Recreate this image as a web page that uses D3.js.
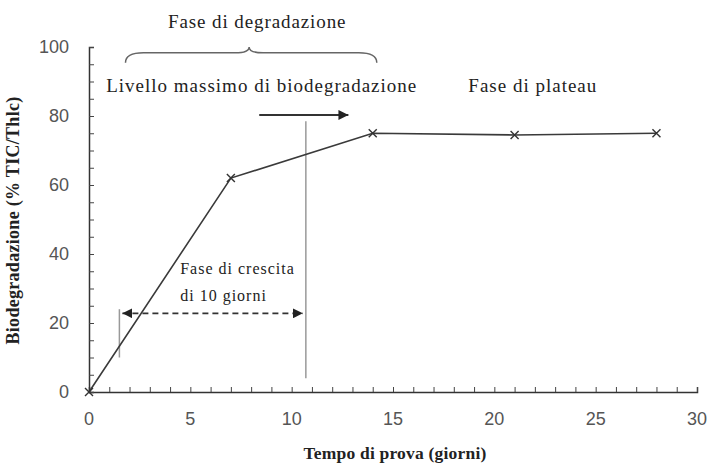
<!DOCTYPE html>
<html>
<head>
<meta charset="utf-8">
<script src="https://cdn.jsdelivr.net/npm/d3@7"></script>
<style>
    body { margin: 0; background: #fff; }
    svg { display: block; }
</style>
</head>
<body>
<div class="graph-goes-here"></div>
<script>
// data
var days = [0, 7, 14, 21, 28];
var biodeg = [0, 62, 75, 74.5, 75];
var xTicks = [0, 5, 10, 15, 20, 25, 30];
var yTicks = [0, 20, 40, 60, 80, 100];

// annotation anchors (data units)
var leftMarkX = 1.5, leftMarkY = [10, 24];
var rightMarkX = 10.7, rightMarkY = [4, 78.5];
var growthArrowY = 22.8;
var plateauArrowX = [8.4, 12.8], plateauArrowY = 80.3;
var braceX = [1.8, 14.2], braceMid = 7.9;

var margin = { top: 47, right: 13, bottom: 78, left: 89 },
    width = 710 - margin.left - margin.right,
    height = 470 - margin.top - margin.bottom;

var svg = d3.select(".graph-goes-here")
    .append("svg")
    .attr("width", 710)
    .attr("height", 470)
    .append("g")
    .attr("transform", "translate(" + margin.left + "," + margin.top + ")");

var x = d3.scaleLinear().domain([0, 30]).range([0, width]);
var y = d3.scaleLinear().domain([0, 100]).range([height, 0]);

var defs = svg.append("defs");
defs.append("marker")
    .attr("id", "head")
    .attr("viewBox", "0 0 10 10")
    .attr("refX", 10).attr("refY", 5)
    .attr("markerWidth", 10).attr("markerHeight", 10)
    .attr("markerUnits", "userSpaceOnUse")
    .attr("orient", "auto-start-reverse")
    .append("path")
    .attr("d", "M0,0 L10,5 L0,10 Z")
    .attr("fill", "#222");

// axes: ticks point inside the plot
var xAxis = svg.append("g")
    .attr("transform", "translate(0," + height + ")")
    .call(d3.axisTop(x).ticks(30).tickSize(5).tickFormat(""));
xAxis.select(".domain").attr("stroke", "#333").attr("stroke-width", 1.5);
xAxis.selectAll(".tick line").attr("stroke", "#444");

var yAxis = svg.append("g")
    .call(d3.axisRight(y).ticks(20).tickSize(5).tickFormat(""));
yAxis.select(".domain").attr("stroke", "#333").attr("stroke-width", 1.5);
yAxis.selectAll(".tick line").attr("stroke", "#444");

svg.append("g").selectAll("text")
    .data(xTicks).join("text")
    .attr("x", d => x(d))
    .attr("y", height + 33)
    .attr("text-anchor", "middle")
    .attr("font-family", "Liberation Sans, Arial, sans-serif")
    .attr("font-size", 18)
    .attr("fill", "#555")
    .text(d => d);

svg.append("g").selectAll("text")
    .data(yTicks).join("text")
    .attr("x", -20)
    .attr("y", d => y(d) + 6)
    .attr("text-anchor", "end")
    .attr("font-family", "Liberation Sans, Arial, sans-serif")
    .attr("font-size", 18)
    .attr("fill", "#555")
    .text(d => d);

// axis titles
var serif = "Liberation Serif, Times New Roman, serif";
svg.append("text")
    .attr("x", width / 2 + 2)
    .attr("y", height + 67)
    .attr("text-anchor", "middle")
    .attr("font-family", serif)
    .attr("font-weight", "bold")
    .attr("font-size", 17.5)
    .attr("letter-spacing", 0.2)
    .attr("fill", "#222")
    .text("Tempo di prova (giorni)");

svg.append("text")
    .attr("transform", "translate(-70," + (height / 2 + 1) + ") rotate(-90)")
    .attr("text-anchor", "middle")
    .attr("font-family", serif)
    .attr("font-weight", "bold")
    .attr("font-size", 18)
    .attr("letter-spacing", 0.3)
    .attr("fill", "#222")
    .text("Biodegradazione (% TIC/Thlc)");

// gray markers of the growth phase
svg.append("line")
    .attr("x1", x(leftMarkX)).attr("x2", x(leftMarkX))
    .attr("y1", y(leftMarkY[0])).attr("y2", y(leftMarkY[1]))
    .attr("stroke", "#999").attr("stroke-width", 1.5);
svg.append("line")
    .attr("x1", x(rightMarkX)).attr("x2", x(rightMarkX))
    .attr("y1", y(rightMarkY[0])).attr("y2", y(rightMarkY[1]))
    .attr("stroke", "#999").attr("stroke-width", 1.5);

// data line
var pts = days.map((d, i) => ({ day: d, val: biodeg[i] }));
svg.append("path")
    .datum(pts)
    .attr("fill", "none")
    .attr("stroke", "#3a3a3a")
    .attr("stroke-width", 1.6)
    .attr("d", d3.line().x(d => x(d.day)).y(d => y(d.val)));

svg.append("g").selectAll("path")
    .data(pts).join("path")
    .attr("transform", d => "translate(" + x(d.day) + "," + y(d.val) + ")")
    .attr("d", "M-4,-4L4,4M-4,4L4,-4")
    .attr("stroke", "#333")
    .attr("stroke-width", 1.4);

// dashed double arrow
svg.append("line")
    .attr("x1", x(leftMarkX) + 3).attr("x2", x(rightMarkX) - 3)
    .attr("y1", y(growthArrowY)).attr("y2", y(growthArrowY))
    .attr("stroke", "#333").attr("stroke-width", 1.6)
    .attr("stroke-dasharray", "6,4")
    .attr("marker-start", "url(#head)")
    .attr("marker-end", "url(#head)");

// solid arrow
svg.append("line")
    .attr("x1", x(plateauArrowX[0])).attr("x2", x(plateauArrowX[1]))
    .attr("y1", y(plateauArrowY)).attr("y2", y(plateauArrowY))
    .attr("stroke", "#333").attr("stroke-width", 2)
    .attr("marker-end", "url(#head)");

// curly brace
var bx0 = x(braceX[0]), bx1 = x(braceX[1]), bm = x(braceMid);
var bEnd = y(95.4), bFlat = y(98.3), bTip = y(100);
svg.append("path")
    .attr("d", "M" + bx0 + "," + bEnd +
        "Q" + bx0 + "," + bFlat + " " + (bx0 + 18) + "," + bFlat +
        "L" + (bm - 14) + "," + bFlat +
        "Q" + bm + "," + bFlat + " " + bm + "," + bTip +
        "Q" + bm + "," + bFlat + " " + (bm + 14) + "," + bFlat +
        "L" + (bx1 - 18) + "," + bFlat +
        "Q" + bx1 + "," + bFlat + " " + bx1 + "," + bEnd)
    .attr("fill", "none")
    .attr("stroke", "#666")
    .attr("stroke-width", 1.5);

// annotation texts
svg.append("text")
    .attr("x", x(8.3)).attr("y", -19)
    .attr("text-anchor", "middle")
    .attr("font-family", serif).attr("font-size", 19).attr("letter-spacing", 0.9)
    .attr("fill", "#222")
    .text("Fase di degradazione");

svg.append("text")
    .attr("x", x(0.85)).attr("y", y(87))
    .attr("font-family", serif).attr("font-size", 19).attr("letter-spacing", 1)
    .attr("fill", "#222")
    .text("Livello massimo di biodegradazione");

svg.append("text")
    .attr("x", x(21.9)).attr("y", y(87))
    .attr("text-anchor", "middle")
    .attr("font-family", serif).attr("font-size", 19).attr("letter-spacing", 1)
    .attr("fill", "#222")
    .text("Fase di plateau");

svg.append("text")
    .attr("x", x(4.5)).attr("y", y(34.3))
    .attr("font-family", serif).attr("font-size", 16).attr("letter-spacing", 1)
    .attr("fill", "#222")
    .text("Fase di crescita");

svg.append("text")
    .attr("x", x(4.5)).attr("y", y(26.3))
    .attr("font-family", serif).attr("font-size", 16).attr("letter-spacing", 1)
    .attr("fill", "#222")
    .text("di 10 giorni");
</script>
</body>
</html>
